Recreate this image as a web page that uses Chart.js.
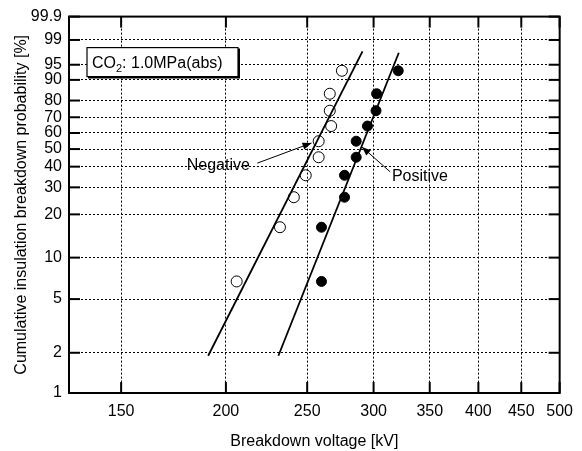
<!DOCTYPE html>
<html>
<head>
<meta charset="utf-8">
<script src="https://cdn.jsdelivr.net/npm/chart.js@4.4.0/dist/chart.umd.min.js"></script>
<style>
  html, body { margin: 0; padding: 0; background: #fff; }
</style>
</head>
<body>
<canvas id="chart" width="582" height="451"></canvas>
<script>
// Weibull plot: log voltage vs. ln(-ln(1-F))
const xTicks = [150, 200, 250, 300, 350, 400, 450, 500];
const yTicks = [1, 2, 5, 10, 20, 30, 40, 50, 60, 70, 80, 90, 95, 99, 99.9];

const probs = [6.73, 16.35, 25.96, 35.58, 45.19, 54.81, 64.42, 74.04, 83.65, 93.27];
const negVoltage = [206, 232, 241, 249, 258, 258, 267, 266, 266, 275];
const posVoltage = [260, 260, 277, 277, 286, 286, 295, 302, 302.5, 321];

const negFitV = [190.5, 291];
const negFitP = [1.9, 97.7];
const posFitV = [231, 321.5];
const posFitP = [1.9, 97.5];

const FONT = "'Liberation Sans', Arial, sans-serif";

function weibull(p) {
  return Math.log(-Math.log(1 - p / 100));
}

function pts(vs, ps) {
  return vs.map((v, i) => ({ x: v, y: weibull(ps[i]) }));
}

function line(ctx, x1, y1, x2, y2) {
  ctx.beginPath();
  ctx.moveTo(x1, y1);
  ctx.lineTo(x2, y2);
  ctx.stroke();
}

function arrow(ctx, x1, y1, x2, y2) {
  line(ctx, x1, y1, x2, y2);
  const ang = Math.atan2(y2 - y1, x2 - x1);
  const L = 9, W = 3.5;
  ctx.beginPath();
  ctx.moveTo(x2, y2);
  ctx.lineTo(x2 - L * Math.cos(ang) + W * Math.sin(ang), y2 - L * Math.sin(ang) - W * Math.cos(ang));
  ctx.lineTo(x2 - L * Math.cos(ang) - W * Math.sin(ang), y2 - L * Math.sin(ang) + W * Math.cos(ang));
  ctx.closePath();
  ctx.fill();
}

const framePlugin = {
  id: "frame",
  afterDraw(chart) {
    const { ctx, chartArea: a, scales: { x, y } } = chart;
    ctx.save();
    ctx.strokeStyle = "#000";
    ctx.fillStyle = "#000";

    // axis frame and inward ticks
    ctx.lineWidth = 2;
    ctx.strokeRect(a.left, a.top, a.right - a.left, a.bottom - a.top);
    const len = 11;
    xTicks.forEach(v => {
      const px = x.getPixelForValue(v);
      line(ctx, px, a.bottom, px, a.bottom - len);
      line(ctx, px, a.top, px, a.top + len);
    });
    yTicks.forEach(p => {
      const py = y.getPixelForValue(weibull(p));
      line(ctx, a.left, py, a.left + len, py);
      line(ctx, a.right, py, a.right - len, py);
    });

    // condition box
    const bx = a.left + 18, by = a.top + 31, bw = 151, bh = 29;
    ctx.fillStyle = "#fff";
    ctx.fillRect(bx, by, bw, bh);
    ctx.lineWidth = 1.2;
    ctx.strokeRect(bx, by, bw, bh);
    ctx.lineWidth = 2;
    line(ctx, bx + bw + 1, by + 1, bx + bw + 1, by + bh + 1);
    line(ctx, bx + 1, by + bh + 1, bx + bw + 2, by + bh + 1);
    ctx.fillStyle = "#000";
    ctx.textBaseline = "alphabetic";
    ctx.textAlign = "left";
    ctx.font = "16px " + FONT;
    let tx = bx + 5;
    const base = by + 20;
    ctx.fillText("CO", tx, base);
    tx += ctx.measureText("CO").width;
    ctx.font = "11px " + FONT;
    ctx.fillText("2", tx, base + 4);
    tx += ctx.measureText("2").width;
    ctx.font = "16px " + FONT;
    ctx.fillText(": 1.0MPa(abs)", tx, base);

    // labels with arrows (anchored in data units)
    ctx.lineWidth = 1;
    ctx.textBaseline = "middle";
    ctx.fillText("Negative", x.getPixelForValue(179.6), y.getPixelForValue(weibull(40.8)));
    arrow(ctx, x.getPixelForValue(218), y.getPixelForValue(weibull(41.9)),
               x.getPixelForValue(253), y.getPixelForValue(weibull(53.7)));
    ctx.fillText("Positive", x.getPixelForValue(315.5), y.getPixelForValue(weibull(34.8)));
    arrow(ctx, x.getPixelForValue(314), y.getPixelForValue(weibull(37.3)),
               x.getPixelForValue(290.5), y.getPixelForValue(weibull(51.3)));
    ctx.restore();
  }
};

new Chart(document.getElementById("chart"), {
  type: "scatter",
  data: {
    datasets: [
      {
        label: "Negative",
        data: pts(negVoltage, probs),
        pointStyle: "circle",
        pointRadius: 5.5,
        pointBorderWidth: 1,
        pointBorderColor: "#000",
        pointBackgroundColor: "rgba(255,255,255,0)"
      },
      {
        label: "Positive",
        data: pts(posVoltage, probs),
        pointStyle: "circle",
        pointRadius: 5,
        pointBorderWidth: 1,
        pointBorderColor: "#000",
        pointBackgroundColor: "#000"
      },
      {
        label: "Negative fit",
        data: pts(negFitV, negFitP),
        showLine: true,
        pointRadius: 0,
        borderColor: "#000",
        borderWidth: 1.8
      },
      {
        label: "Positive fit",
        data: pts(posFitV, posFitP),
        showLine: true,
        pointRadius: 0,
        borderColor: "#000",
        borderWidth: 1.8
      }
    ]
  },
  options: {
    responsive: false,
    animation: false,
    layout: { padding: { top: 16, right: 22, left: 0, bottom: 0 } },
    plugins: {
      legend: { display: false },
      tooltip: { enabled: false }
    },
    scales: {
      x: {
        type: "logarithmic",
        min: 130,
        max: 500,
        afterBuildTicks: s => { s.ticks = xTicks.map(v => ({ value: v })); },
        afterFit: s => { s.height = 58; },
        ticks: {
          autoSkip: false,
          maxRotation: 0,
          padding: 9,
          color: "#000",
          font: { family: FONT, size: 16 },
          callback: v => String(v)
        },
        grid: { color: "#000", lineWidth: 1, drawTicks: false },
        border: { display: false, dash: [2, 2] },
        title: {
          display: true,
          text: "Breakdown voltage [kV]",
          color: "#000",
          font: { family: FONT, size: 16, lineHeight: 1 },
          padding: { top: 0, bottom: 1 }
        }
      },
      y: {
        type: "linear",
        min: weibull(1),
        max: weibull(99.9),
        afterBuildTicks: s => { s.ticks = yTicks.map(p => ({ value: weibull(p) })); },
        afterFit: s => { s.width = 69; },
        ticks: {
          autoSkip: false,
          padding: 7,
          color: "#000",
          font: { family: FONT, size: 16 },
          callback: (v, i) => String(yTicks[i])
        },
        grid: { color: "#000", lineWidth: 1, drawTicks: false },
        border: { display: false, dash: [2, 2] },
        title: {
          display: true,
          text: "Cumulative insulation breakdown probability [%]",
          color: "#000",
          font: { family: FONT, size: 16 },
          padding: { top: 12, bottom: 0 }
        }
      }
    }
  },
  plugins: [framePlugin]
});
</script>
</body>
</html>
